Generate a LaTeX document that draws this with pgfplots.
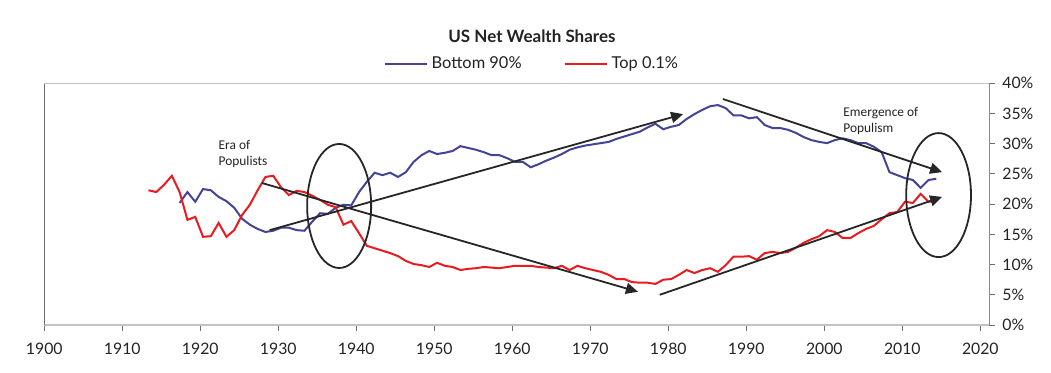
\documentclass[border=0pt]{standalone}
\usepackage{pgfplots}
\pgfplotsset{compat=1.18}
\usepackage{fontspec}
\setmainfont{Lato}
\newfontfamily\annofont{Carlito}
\usetikzlibrary{arrows.meta}
\definecolor{bluel}{RGB}{68,68,150}
\definecolor{redl}{RGB}{232,28,32}
\definecolor{axgray}{RGB}{110,110,110}
\definecolor{lightax}{RGB}{195,195,195}
\definecolor{txt}{RGB}{35,35,35}
\begin{document}
\begin{tikzpicture}
\useasboundingbox (-22.15pt,-23.5pt) rectangle (503.35pt,162.5pt);
\begin{axis}[
  at={(0pt,0pt)}, anchor=south west,
  scale only axis, width=472.5pt, height=120.85pt,
  xmin=1900, xmax=2021.15, ymin=0, ymax=40,
  axis x line=bottom, axis y line=right,
  axis line style={-},
  x axis line style={draw=lightax, line width=1pt},
  y axis line style={draw=axgray!80, line width=0.6pt},
  xtick={1900,1910,...,2020}, ytick={0,5,...,40},
  tick align=outside, major tick length=3pt,
  every tick/.style={draw=axgray, line width=0.5pt},
  x tick label style={/pgf/number format/1000 sep={}, /pgf/number format/assume math mode=true, font=\fontsize{7.9}{9}\selectfont, text=txt, yshift=-2.5pt},
  y tick label style={/pgf/number format/assume math mode=true, font=\fontsize{7.9}{9}\selectfont, text=txt},
  yticklabel={\pgfmathprintnumber{\tick}\%},
  clip=false,
  title={US Net Wealth Shares},
  title style={at={(0.516,1.146)}, anchor=center, font=\fontsize{8.5}{10}\selectfont\bfseries, text=txt},
  legend columns=2,
  legend style={at={(0.517,1.080)}, anchor=center, draw=none, fill=none,
    font=\fontsize{8.2}{9}\selectfont, text=txt,
    /tikz/every even column/.append style={column sep=19pt}},
  legend image code/.code={\draw[#1] (0pt,0pt) -- (21pt,0pt);},
]
\addplot[bluel, line width=1pt, x filter/.expression={x+0.35}] coordinates {
(1917,20.2)(1918,22.0)(1919,20.4)(1920,22.5)(1921,22.3)(1922,21.2)(1923,20.5)(1924,19.4)
(1925,17.6)(1926,16.6)(1927,15.9)(1928,15.4)(1929,15.6)(1930,16.1)(1931,16.1)(1932,15.7)
(1933,15.6)(1934,17.1)(1935,18.5)(1936,18.4)(1937,19.4)(1938,19.9)(1939,19.8)(1940,22.0)
(1941,23.7)(1942,25.2)(1943,24.8)(1944,25.2)(1945,24.5)(1946,25.3)(1947,27.0)(1948,28.1)
(1949,28.8)(1950,28.3)(1951,28.5)(1952,28.8)(1953,29.6)(1954,29.3)(1955,29.0)(1956,28.6)
(1957,28.1)(1958,28.1)(1959,27.6)(1960,27.0)(1961,27.0)(1962,26.1)(1963,26.6)(1964,27.2)
(1965,27.7)(1966,28.3)(1967,29.0)(1968,29.4)(1969,29.7)(1970,29.9)(1971,30.1)(1972,30.3)
(1973,30.8)(1974,31.2)(1975,31.6)(1976,32.0)(1977,32.7)(1978,33.3)(1979,32.4)(1980,32.8)
(1981,33.1)(1982,34.1)(1983,34.9)(1984,35.6)(1985,36.2)(1986,36.4)(1987,35.9)(1988,34.7)
(1989,34.7)(1990,34.2)(1991,34.4)(1992,33.1)(1993,32.6)(1994,32.6)(1995,32.3)(1996,31.8)
(1997,31.1)(1998,30.6)(1999,30.3)(2000,30.1)(2001,30.6)(2002,30.9)(2003,30.6)(2004,30.1)
(2005,30.1)(2006,29.5)(2007,28.6)(2008,25.3)(2009,24.8)(2010,24.3)(2011,24.0)(2012,22.7)
(2013,24.0)(2014,24.2)
};
\addlegendentry{Bottom 90\%}
\addplot[redl, line width=1pt, x filter/.expression={x+0.35}] coordinates {
(1913,22.3)(1914,22.0)(1915,23.2)(1916,24.7)(1917,22.0)(1918,17.4)(1919,17.9)(1920,14.6)
(1921,14.7)(1922,16.9)(1923,14.6)(1924,15.7)(1925,18.2)(1926,19.9)(1927,22.3)(1928,24.5)
(1929,24.7)(1930,22.8)(1931,21.5)(1932,22.2)(1933,22.0)(1934,21.4)(1935,20.7)(1936,19.9)
(1937,19.5)(1938,16.6)(1939,17.2)(1940,15.2)(1941,13.1)(1942,12.7)(1943,12.3)(1944,11.9)
(1945,11.4)(1946,10.6)(1947,10.1)(1948,9.9)(1949,9.6)(1950,10.3)(1951,9.8)(1952,9.6)
(1953,9.1)(1954,9.3)(1955,9.4)(1956,9.6)(1957,9.5)(1958,9.4)(1959,9.6)(1960,9.8)
(1961,9.8)(1962,9.8)(1963,9.6)(1964,9.5)(1965,9.4)(1966,9.8)(1967,9.1)(1968,9.8)
(1969,9.4)(1970,9.1)(1971,8.8)(1972,8.3)(1973,7.6)(1974,7.6)(1975,7.1)(1976,7.0)
(1977,7.0)(1978,6.8)(1979,7.5)(1980,7.6)(1981,8.3)(1982,9.1)(1983,8.6)(1984,9.1)
(1985,9.4)(1986,8.8)(1987,9.9)(1988,11.3)(1989,11.3)(1990,11.4)(1991,10.8)(1992,11.9)
(1993,12.1)(1994,11.9)(1995,12.1)(1996,12.8)(1997,13.6)(1998,14.2)(1999,14.7)(2000,15.7)
(2001,15.4)(2002,14.4)(2003,14.4)(2004,15.2)(2005,15.9)(2006,16.4)(2007,17.5)(2008,18.5)
(2009,18.7)(2010,20.4)(2011,20.2)(2012,21.7)(2013,20.4)(2014,20.5)
};
\addlegendentry{Top 0.1\%}
% frame: left and top
\draw[axgray, line width=0.8pt] (rel axis cs:0,0) -- (rel axis cs:0,1);
\draw[lightax, line width=0.8pt] (rel axis cs:0,1) -- (rel axis cs:1,1);
% annotations
\tikzset{arr/.style={-{Triangle[length=6pt,width=5.5pt]}, line width=0.9pt, black!85}}
\draw[arr] (axis cs:1928.9,15.7) -- (axis cs:1981.9,34.9);
\draw[arr] (axis cs:1927.9,23.5) -- (axis cs:1976.1,5.5);
\draw[arr] (axis cs:1987.0,37.4) -- (axis cs:2015.1,25.3);
\draw[arr] (axis cs:1978.9,5.0) -- (axis cs:2015.1,21.2);
\draw[black!85, line width=0.9pt] (axis cs:1937.8,19.7) ellipse [x radius=16pt, y radius=31pt];
\draw[black!85, line width=0.9pt] (axis cs:2014.65,21.5) ellipse [x radius=16.2pt, y radius=31pt];
\node[anchor=west, align=left, inner sep=0pt, text=txt, font=\annofont\fontsize{6.7}{8}\selectfont] at (axis cs:1922.3,28.3) {Era of\\Populists};
\node[anchor=west, align=left, inner sep=0pt, text=txt, font=\annofont\fontsize{6.7}{8}\selectfont] at (axis cs:2002.4,33.8) {Emergence of\\Populism};
\end{axis}
\end{tikzpicture}
\end{document}
